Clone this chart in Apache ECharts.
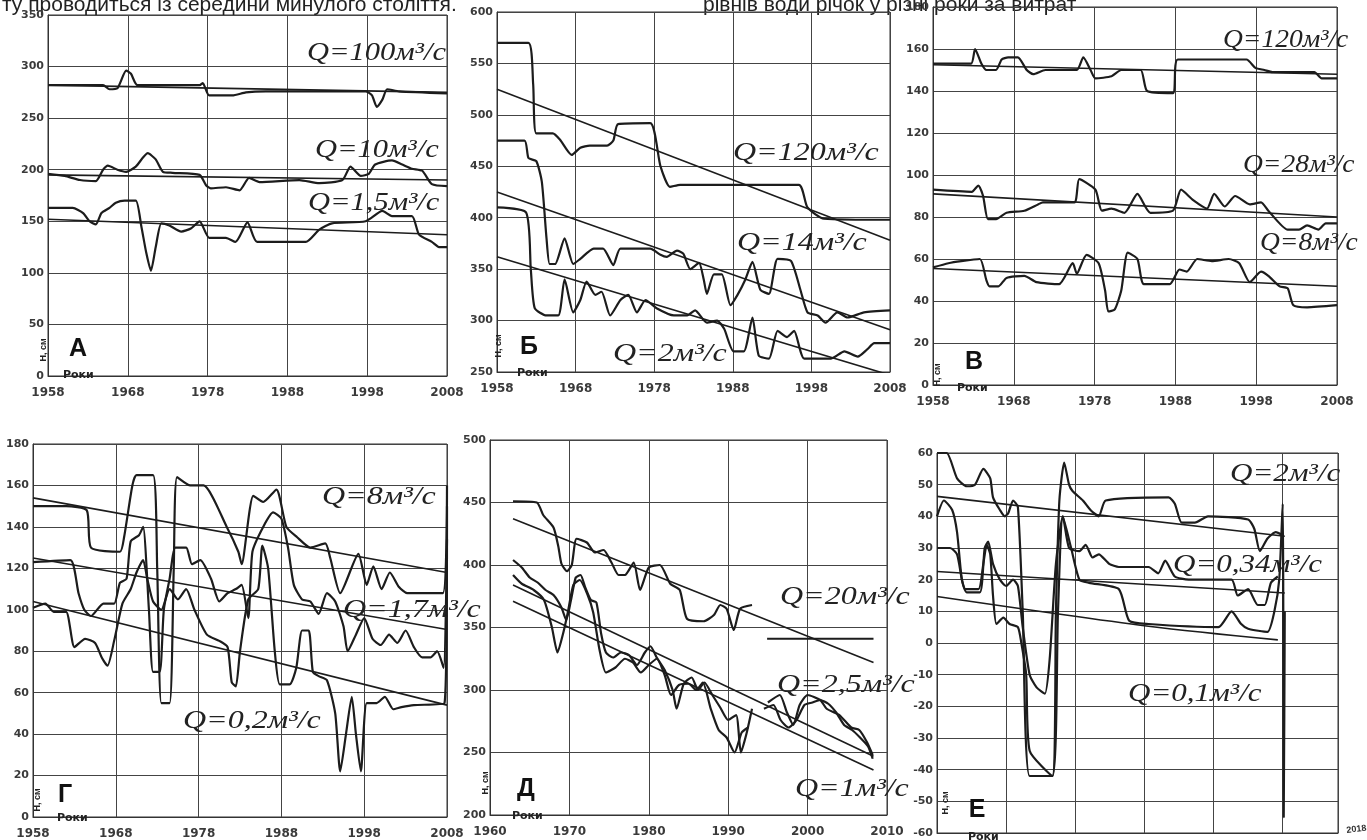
<!DOCTYPE html>
<html>
<head>
<meta charset="utf-8">
<script src="https://cdn.jsdelivr.net/npm/echarts@6/dist/echarts.min.js"></script>
<style>
  html, body { margin: 0; padding: 0; background: #fff; }
  #chart { width: 1367px; height: 840px; }
</style>
</head>
<body>
<div id="chart"></div>
<script>
// ---- А ----
const aQ100 = [[1958,282],[1964.9,282],[1965.7,278],[1966.7,279],[1967.8,296],[1968.4,293],[1969.2,282],[1977,282],[1977.4,284],[1978.2,272],[1981.1,272],[1982.8,275],[1985.3,276],[1997.8,276],[1998.6,272],[1999.2,261],[1999.9,268],[2000.5,278],[2002,276],[2008,274]];
const aQ100Trend = [[1958,282],[2008,275]];
const aQ10 = [[1958,196],[1960.1,194],[1962,190],[1964,189],[1964.9,200],[1965.5,204],[1966.7,200],[1967.8,198],[1969,203],[1970.5,216],[1971.5,210],[1972.4,198],[1973.6,197],[1977,195],[1977.8,185],[1978.4,182],[1980.3,183],[1982,180],[1983.2,192],[1984.5,188],[1989.5,190],[1992,187],[1994.9,190],[1995.9,203],[1997.2,194],[1998.2,196],[1999,205],[2001.1,209],[2002.4,205],[2003.6,201],[2004.9,199],[2006.1,186],[2008,184]];
const aQ10Trend = [[1958,195],[2008,190]];
const aQ15 = [[1958,163],[1961.1,163],[1962.4,158],[1963.2,150],[1964,147],[1964.7,158],[1965.7,163],[1966.5,168],[1967.6,170],[1969,170],[1969.7,145],[1970.3,120],[1970.9,102],[1971.5,125],[1972.2,148],[1973.2,146],[1974.7,140],[1975.9,143],[1977,150],[1978.2,134],[1980.3,134],[1981.5,130],[1983,149],[1984.2,130],[1990.3,130],[1992,142],[1993.6,148],[1997.8,150],[1999.9,160],[2001.1,155],[2003.6,155],[2004.5,137],[2006.1,130],[2007,125],[2008,125]];
const aQ15Trend = [[1958,152],[2008,137]];

// ---- Б ----
const bQ120 = [[1958,570],[1962,570],[1962.6,530],[1963,482],[1965.1,482],[1966,476],[1967.5,461],[1968.6,468],[1969.8,470],[1972,470],[1972.8,475],[1973.4,491],[1977.5,492],[1978.8,450],[1980,430],[1981.3,432],[1996.4,432],[1997.5,410],[1999.6,399],[2008,398]];
const bQ120Trend = [[1958,525],[2008,378]];
const bQ14 = [[1958,475],[1961.5,475],[1962,458],[1963,455],[1963.7,435],[1964.3,380],[1964.7,355],[1965.4,355],[1966.6,380],[1967.7,355],[1968.6,360],[1970.3,370],[1971.5,370],[1972.8,354],[1973.7,370],[1977.5,370],[1978.8,364],[1979.6,362],[1980.9,368],[1981.7,365],[1982.6,350],[1983.7,356],[1984.3,340],[1984.7,326],[1985.6,345],[1986.6,345],[1987.7,315],[1988.6,325],[1989.6,340],[1990.5,357],[1991.5,330],[1992.6,326],[1993.7,360],[1995.4,358],[1996.6,330],[1997.5,308],[1998.8,305],[1999.8,298],[2001.3,308],[2002.6,303],[2004.7,308],[2008,310]];
const bQ14Trend = [[1958,425],[2008,291]];
const bQ2 = [[1958,410],[1961.7,405],[1962.3,350],[1962.8,312],[1964.3,305],[1965.8,305],[1966.6,340],[1967.7,308],[1968.6,320],[1969.4,338],[1970.5,325],[1971.3,328],[1972.4,305],[1973.7,320],[1974.7,325],[1975.8,308],[1976.9,320],[1978.3,312],[1980.5,305],[1982.2,305],[1983.2,310],[1984.7,298],[1986,300],[1986.9,292],[1988.1,270],[1989.4,270],[1990.5,303],[1991.3,266],[1992.6,263],[1993.7,290],[1994.9,284],[1995.8,290],[1997.1,263],[2000.5,263],[2002.2,270],[2003.9,265],[2005.1,272],[2006,278],[2008,278]];
const bQ2Trend = [[1958,362],[2008,247]];

// ---- В ----
const vQ120 = [[1958,153],[1962.7,153],[1963.2,160],[1964,153],[1964.6,150],[1965.8,150],[1966.5,155],[1967.3,156],[1968.5,156],[1969.6,150],[1970.4,148],[1971.9,150],[1975.8,150],[1976.6,156],[1977.5,150],[1978.1,146],[1980.1,147],[1981.3,150],[1983.7,150],[1984.5,140],[1987.7,139],[1988.3,155],[1996.8,155],[1997.9,151],[1999,150],[2000,149],[2005.2,149],[2006.1,146],[2008,146]];
const vQ120Trend = [[1958,152.5],[2008,148]];
const vQ28 = [[1958,93],[1962.8,92],[1963.6,95],[1964.2,90],[1964.8,79],[1965.8,79],[1967.1,82],[1969.3,83],[1971,86],[1971.6,87],[1975.5,87],[1976.1,98],[1978.1,93],[1978.9,83],[1980.1,84],[1981.7,82],[1983.3,91],[1984.9,82],[1987.7,83],[1988.7,93],[1990.2,88],[1991.9,84],[1992.8,91],[1994.1,85],[1995.4,90],[1997.2,86],[1998.6,87],[1999.5,83],[2001.9,74],[2003.3,74],[2004.3,76],[2005.7,74],[2006.6,77],[2008,77]];
const vQ28Trend = [[1958,91],[2008,80]];
const vQ8 = [[1958,56],[1959.9,58],[1961.5,59],[1963.8,60],[1964.6,50],[1965,47],[1966.1,47],[1967.1,51],[1969.3,52],[1970.8,49],[1973.6,48],[1975.3,58],[1975.8,53],[1977,62],[1978.5,58],[1979.3,45],[1979.7,35],[1980.5,36],[1981.3,45],[1982.1,63],[1983.3,60],[1984.1,48],[1987.3,48],[1988.5,55],[1989.4,54],[1990.7,60],[1992.5,59],[1994.6,60],[1995.9,58],[1997.2,49],[1998.6,54],[1999.5,52],[2000.9,47],[2001.9,46],[2002.6,38],[2004.3,37],[2008,38]];
const vQ8Trend = [[1958,55.5],[2008,47]];

// ---- Г ----
const gQ8 = [[1958,150],[1962,150],[1964.5,148],[1965,130],[1968.5,128],[1969,135],[1970,160],[1970.5,165],[1972.5,165],[1973,120],[1973.5,55],[1974.5,55],[1975,120],[1975.4,164],[1977,160],[1978.6,160],[1981.4,140],[1982.8,128],[1983.2,122],[1984.6,155],[1985.8,152],[1987.4,158],[1988.6,140],[1989.9,135],[1991.5,130],[1993.3,132],[1993.9,125],[1995.1,108],[1997.3,127],[1998.3,112],[1999.1,121],[2000.1,110],[2001.1,118],[2002.2,111],[2003.2,108],[2007.5,108],[2008,160]];
const gQ8Trend = [[1958,154],[2008,118]];
const gQ17 = [[1958,123],[1962.5,124],[1963.5,108],[1964.2,100],[1965,97],[1966.5,103],[1967.8,103],[1968.5,113],[1969.3,115],[1969.8,133],[1970.8,136],[1971.3,140],[1972,100],[1972.5,70],[1973.3,70],[1973.8,100],[1974.5,115],[1975.2,130],[1976.5,130],[1977.2,122],[1978.2,124],[1979.5,115],[1980.5,104],[1981.5,108],[1982.5,110],[1983.2,112],[1984,96],[1984.5,128],[1985.8,140],[1987,147],[1988,144],[1988.8,130],[1989.5,112],[1990.5,105],[1991.5,104],[1992.5,98],[1993.5,108],[1994.5,104],[1995.5,92],[1996,80],[1997,88],[1998,96],[1999,86],[2000,83],[2001,88],[2002,84],[2003,90],[2004,82],[2005,77],[2006,77],[2006.8,80],[2007.6,72],[2008,134]];
const gQ17Trend = [[1958,125],[2008,90.5]];
const gQ02 = [[1958,101],[1959.5,103],[1960.5,99],[1962,99],[1963,82],[1964.3,86],[1965.5,84],[1966.3,77],[1967,73],[1967.8,85],[1968.8,103],[1969.8,110],[1970.5,118],[1971.3,124],[1971.8,115],[1972.5,104],[1973.5,100],[1974.5,110],[1975.5,105],[1976.5,110],[1977.5,100],[1979,88],[1980.5,85],[1981.5,82],[1982,65],[1982.5,63],[1983,80],[1984,105],[1985.2,110],[1985.7,131],[1986.4,120],[1987.2,80],[1987.8,64],[1989,64],[1989.8,72],[1990.5,90],[1991.3,90],[1991.8,70],[1992.5,68],[1993.5,66],[1994.5,50],[1995.1,22],[1995.8,40],[1996.5,58],[1997,40],[1997.6,22],[1998.3,55],[1999.5,55],[2000.5,58],[2001.5,52],[2002.5,53],[2004,54],[2007.7,55],[2008,150]];
const gQ02Trend = [[1958,104],[2008,54]];

// ---- Д ----
const dQ20 = [[1962.9,451],[1965.9,450],[1966.7,440],[1968,430],[1968.6,415],[1969,401],[1969.7,395],[1970.3,400],[1970.9,421],[1972.2,418],[1973.2,410],[1974.3,412],[1975.3,402],[1976.2,392],[1977,392],[1978.1,402],[1978.9,380],[1980,398],[1981.4,400],[1982.7,385],[1983.9,380],[1984.8,357],[1986.9,355],[1988.2,360],[1989,368],[1989.8,365],[1990.7,348],[1991.5,365],[1993,368],[1994,'-'],[1994.9,341],[2008.3,341]];
const dQ20Trend = [[1962.9,437],[2008.3,322]];
const dQ25 = [[1962.9,404],[1964,398],[1965,390],[1966,386],[1967,380],[1968,376],[1969,366],[1969.6,356],[1970.2,372],[1970.8,390],[1971.4,392],[1972,382],[1972.7,372],[1973.4,370],[1974,345],[1974.6,330],[1975.5,326],[1976.5,330],[1977.5,328],[1978.5,320],[1979.5,330],[1980.2,335],[1981,326],[1982,316],[1983,300],[1983.5,285],[1984.4,305],[1985.4,310],[1986.2,300],[1987,306],[1988,296],[1989,286],[1990,276],[1991,280],[1991.6,250],[1992.3,265],[1993,285],[1994,'-'],[1995,290],[1996.5,296],[1997.4,282],[1998.2,272],[1999,288],[2000,296],[2001.6,292],[2002.4,285],[2004,280],[2005.5,270],[2006.5,268],[2007.5,258],[2008.2,248]];
const dQ25Trend = [[1962.9,384],[2008.3,247]];
const dQ1 = [[1962.9,392],[1964,385],[1965.5,380],[1966.8,372],[1967.8,350],[1968.5,330],[1969.2,345],[1969.8,362],[1970.5,384],[1971.3,388],[1972.3,376],[1973,362],[1973.8,332],[1974.6,314],[1975.8,318],[1977,325],[1978,322],[1979,314],[1980,320],[1981,325],[1982,312],[1982.8,296],[1983.8,304],[1985,305],[1986,300],[1986.8,306],[1987.8,285],[1988.8,268],[1989.8,262],[1990.8,250],[1991.7,266],[1992.5,270],[1993.5,'-'],[1994.5,285],[1995.7,288],[1996.6,276],[1997.6,270],[1998.6,276],[1999.6,288],[2000.6,290],[2001.6,292],[2002.6,289],[2003.6,282],[2004.6,272],[2005.6,268],[2006.6,262],[2007.6,255],[2008.2,245]];
const dQ1Trend = [[1962.9,371],[2008.3,236]];

// ---- Е ----
const eQ2 = [[1958,60],[1959.4,60],[1960.9,52],[1962.3,49.5],[1963.5,50],[1964.7,55],[1965.7,52],[1966.1,46],[1967.1,42],[1967.8,40],[1968.3,41],[1969,45],[1969.7,43],[1970.4,10],[1971.4,-42],[1974.7,-42],[1975.2,10],[1975.7,45],[1976.4,57],[1977.1,50],[1977.6,48],[1979.1,45],[1980.2,42],[1981.4,40],[1982.4,45],[1991.5,46],[1992.4,44],[1993.4,38],[1995.3,38],[1997.2,40],[2003,39],[2003.9,36],[2004.7,29],[2005.8,33],[2007,35],[2008,34]];
const eQ2Trend = [[1958,46.3],[2008.3,33.7]];
const eQ034 = [[1958,40],[1959,45],[1960.2,42],[1960.9,35],[1961.6,20],[1962.3,16],[1964.2,16],[1964.9,30],[1965.4,32],[1966.1,25],[1967.1,20],[1968,18],[1969,20],[1969.7,18],[1970.4,5],[1971.4,-10],[1972.4,-14],[1973.6,-16],[1974.3,-5],[1975.2,25],[1976.2,40],[1977.1,30],[1978.6,29],[1979.5,31],[1980.5,27],[1981.4,28],[1982.9,25],[1984.3,24],[1988.6,24],[1990,22],[1991,26],[1992.4,21],[1994.4,20],[2000.6,20],[2001.5,15],[2003,17],[2004.4,12],[2005.4,12],[2006.3,19],[2007.3,21]];
const eQ034Trend = [[1958,22.6],[2008.3,15.8]];
const eQ01 = [[1958,30],[1959.9,30],[1960.9,28],[1961.6,20],[1962.1,17],[1964,17],[1964.7,25],[1965.2,31],[1965.7,28],[1966.1,15],[1966.6,6],[1967.6,8],[1968.5,6],[1969.7,5],[1970.2,0],[1970.9,-10],[1971.4,-34],[1974.7,-42],[1975.5,10],[1976.2,40],[1977.4,30],[1978.6,20],[1980,19],[1984.3,17],[1985.8,7],[1988.6,6],[1998.7,5],[2000.6,10],[2002,6],[2003,4.5],[2005.8,3.5],[2006.8,10],[2007.5,20],[2008,44],[2008.15,-55],[2008.3,10]];
const eQ01Trend = [[1958,14.7],[1988.6,5.3],[2007.3,1]];

// panel axes
const xRanges = [[1958,2008],[1958,2008],[1958,2008],[1958,2008],[1960,2010],[1958,2016]];
const yRanges = [[0,350,50],[250,600,50],[0,180,20],[0,180,20],[200,500,50],[-60,60,10]];
const panelLetters = ['А','Б','В','Г','Д','Е'];
const curveLabels = [
  ['Q=100м³/с','Q=10м³/с','Q=1,5м³/с'],
  ['Q=120м³/с','Q=14м³/с','Q=2м³/с'],
  ['Q=120м³/с','Q=28м³/с','Q=8м³/с'],
  ['Q=8м³/с','Q=1,7м³/с','Q=0,2м³/с'],
  ['Q=20м³/с','Q=2,5м³/с','Q=1м³/с'],
  ['Q=2м³/с','Q=0,34м³/с','Q=0,1м³/с']
];

const panelSeries = [
  [aQ100, aQ10, aQ15], [bQ120, bQ14, bQ2], [vQ120, vQ28, vQ8],
  [gQ8, gQ17, gQ02], [dQ20, dQ25, dQ1], [eQ2, eQ034, eQ01]
];
const panelTrends = [
  [aQ100Trend, aQ10Trend, aQ15Trend], [bQ120Trend, bQ14Trend, bQ2Trend], [vQ120Trend, vQ28Trend, vQ8Trend],
  [gQ8Trend, gQ17Trend, gQ02Trend], [dQ20Trend, dQ25Trend, dQ1Trend], [eQ2Trend, eQ034Trend, eQ01Trend]
];

// layout (px)
const grids = [
  {left: 48, top: 15, width: 399, height: 361},
  {left: 497, top: 12, width: 393, height: 360},
  {left: 933, top: 7, width: 404, height: 378},
  {left: 33, top: 444, width: 414, height: 375},
  {left: 490, top: 440, width: 397, height: 375},
  {left: 937, top: 453, width: 401, height: 380}
];
const labelPos = [
  [[307,53],[315,150],[308,203]],
  [[733,153],[737,243],[613,354]],
  [[1223,40],[1243,165],[1260,243]],
  [[322,497],[343,610],[183,721]],
  [[780,597],[777,685],[795,789]],
  [[1230,474],[1173,565],[1128,694]]
];
const labelStretch = [1.22, 1.28, 1.1, 1.28, 1.28, 1.24];
const letterPos = [[78,349],[529,347],[974,362],[65,795],[526,789],[977,810]];
const hPos = [[44,350],[499,346],[938,375],[38,800],[486,783],[946,803]];
const rokyPos = [[63,375],[517,373],[957,388],[57,818],[512,816],[968,837]];

const ink = '#1c1c1c';
const axisText = {color: '#3a3a3a', fontFamily: 'DejaVu Sans', fontWeight: 'bold'};

var series = [];
panelSeries.forEach(function (list, i) {
  list.forEach(function (d) {
    series.push({type: 'line', xAxisIndex: i, yAxisIndex: i, data: d, symbol: 'none', smooth: 0.2,
      lineStyle: {color: ink, width: 2.2}, z: 3});
  });
  panelTrends[i].forEach(function (d) {
    series.push({type: 'line', xAxisIndex: i, yAxisIndex: i, data: d, symbol: 'none', smooth: 0.3,
      lineStyle: {color: ink, width: 1.6}, z: 4});
  });
});

var graphics = [];
graphics.push({type: 'text', left: 2, top: -5, style: {text: 'ту проводиться із середини минулого століття.', font: '21px "Liberation Sans"', fill: '#222'}});
graphics.push({type: 'text', left: 703, top: -5, style: {text: 'рівнів води річок у різні роки за витрат', font: '21px "Liberation Sans"', fill: '#222'}});
labelPos.forEach(function (row, i) {
  row.forEach(function (p, j) {
    graphics.push({type: 'text', x: p[0], y: p[1], scaleX: labelStretch[i], z: 10, style: {text: curveLabels[i][j], font: 'italic 25px "Liberation Serif"', fill: '#222', textVerticalAlign: 'middle', textAlign: 'left'}});
  });
  graphics.push({type: 'text', x: letterPos[i][0], y: letterPos[i][1], z: 10, style: {text: panelLetters[i], font: 'bold 25px "Liberation Sans"', fill: '#111', textAlign: 'center', textVerticalAlign: 'middle'}});
  graphics.push({type: 'text', x: hPos[i][0], y: hPos[i][1], rotation: Math.PI / 2, z: 10, style: {text: 'H, см', font: 'bold 9px "Liberation Sans"', fill: '#222', textAlign: 'center', textVerticalAlign: 'middle'}});
  graphics.push({type: 'text', x: rokyPos[i][0], y: rokyPos[i][1], z: 10, style: {text: 'Роки', font: 'bold 11px "DejaVu Sans"', fill: '#222', textVerticalAlign: 'middle'}});
});
graphics.push({type: 'text', x: 1346, y: 826, rotation: 0.12, style: {text: '2018', font: 'bold 9px "Liberation Sans"', fill: '#333'}});

var myChart = echarts.init(document.getElementById('chart'));
myChart.setOption({
  animation: false,
  backgroundColor: '#fff',
  grid: grids.map(function (g) {
    return Object.assign({show: true, borderColor: '#333', borderWidth: 1}, g);
  }),
  xAxis: xRanges.map(function (r, i) {
    return {
      type: 'value', gridIndex: i, min: r[0], max: r[1], interval: 10,
      axisLine: {show: true, onZero: false, lineStyle: {color: '#333'}},
      axisTick: {show: false},
      axisLabel: Object.assign({show: i !== 5, margin: 11, fontSize: 12, formatter: function (v) { return String(v); }}, axisText),
      splitLine: {show: true, lineStyle: {color: '#444', width: 1}}
    };
  }),
  yAxis: yRanges.map(function (r, i) {
    return {
      type: 'value', gridIndex: i, min: r[0], max: r[1], interval: r[2],
      axisLine: {show: true, onZero: false, lineStyle: {color: '#333'}},
      axisTick: {show: false},
      axisLabel: Object.assign({margin: 4, fontSize: 11, formatter: function (v) { return String(v); }}, axisText),
      splitLine: {show: true, lineStyle: {color: '#444', width: 1}}
    };
  }),
  series: series,
  graphic: graphics
});
</script>
</body>
</html>
